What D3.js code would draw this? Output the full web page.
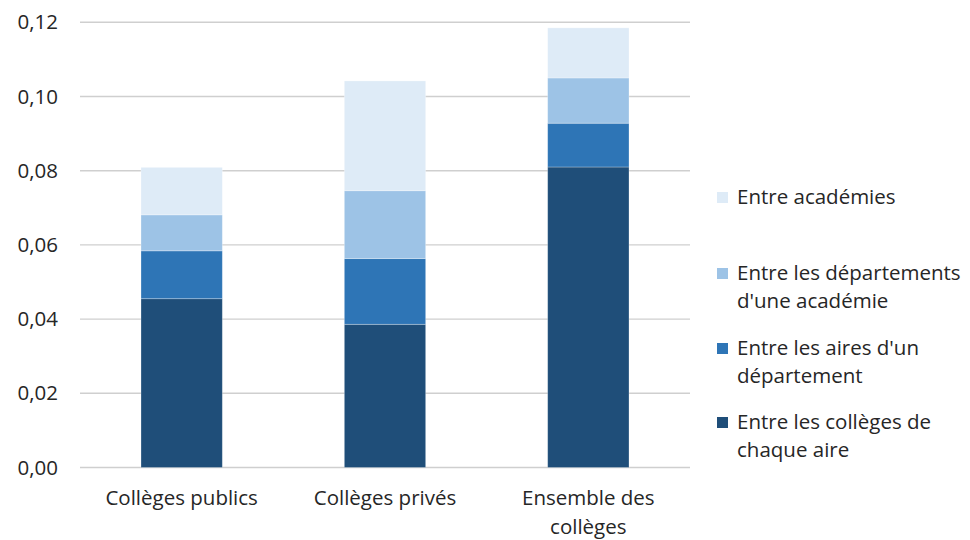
<!DOCTYPE html>
<html><head><meta charset="utf-8">
<script src="https://cdn.jsdelivr.net/npm/d3@7"></script>
<style>body{margin:0;background:#fff}text{font-family:"Open Sans",sans-serif;fill:#262626}</style>
</head><body><svg id="c" width="970" height="540"></svg>
<script>
const categories = [["Collèges publics"], ["Collèges privés"], ["Ensemble des", "collèges"]];
const seriesNames = [
  ["Entre les collèges de", "chaque aire"],
  ["Entre les aires d'un", "département"],
  ["Entre les départements", "d'une académie"],
  ["Entre académies"]
];
const seriesColleges = [0.0455, 0.0386, 0.0810];
const seriesAires = [0.0129, 0.0177, 0.0118];
const seriesDepartements = [0.0097, 0.0183, 0.0122];
const seriesAcademies = [0.0128, 0.0296, 0.0135];
const yTicks = [0, 0.02, 0.04, 0.06, 0.08, 0.10, 0.12];
const colors = ["#1F4E79", "#2E75B6", "#9DC3E6", "#DEEBF7"];

const svg = d3.select("#c");
const x0 = 80, x1 = 690, yTop = 22.3, yBot = 467.5;
const FS = 20.5;
const y = d3.scaleLinear().domain([0, 0.12]).range([yBot, yTop]);
const x = d3.scaleBand().domain(d3.range(3)).range([x0, x1]).paddingInner(0.6).paddingOuter(0.3);

// grid
svg.append("g").selectAll("line").data(yTicks).join("line")
  .attr("x1", x0).attr("x2", x1)
  .attr("y1", d => y(d)).attr("y2", d => y(d))
  .attr("stroke", "#cfcfcf").attr("stroke-width", 1.4);

const fmt = d => d3.format(".2f")(d).replace(".", ",");
svg.append("g").selectAll("text").data(yTicks).join("text")
  .attr("x", 58).attr("y", d => y(d)).attr("dy", "0.35em")
  .attr("text-anchor", "end").attr("font-size", FS).text(fmt);

const table = d3.range(3).map(i => ({i, s0: seriesColleges[i], s1: seriesAires[i], s2: seriesDepartements[i], s3: seriesAcademies[i]}));
const stack = d3.stack().keys(["s0", "s1", "s2", "s3"])(table);

svg.append("g").selectAll("g").data(stack).join("g")
  .attr("fill", (d, k) => colors[k])
  .selectAll("rect").data(d => d).join("rect")
  .attr("x", d => x(d.data.i)).attr("width", x.bandwidth())
  .attr("y", d => y(d[1])).attr("height", d => y(d[0]) - y(d[1]))
  .attr("stroke", "rgba(255,255,255,0.35)").attr("stroke-width", 0.8);

// x labels
const xl = svg.append("g").selectAll("text").data(categories).join("text")
  .attr("x", (d, i) => x(i) + x.bandwidth() / 2).attr("y", 505)
  .attr("text-anchor", "middle").attr("font-size", FS);
xl.selectAll("tspan").data(d => d).join("tspan")
  .attr("x", function() { return this.parentNode.getAttribute("x"); })
  .attr("dy", (d, j) => j === 0 ? 0 : 29).text(d => d);

// legend
const legendY = [197, 273, 348, 422];
const legOrder = [3, 2, 1, 0];
const lg = svg.append("g").selectAll("g").data(legOrder).join("g")
  .attr("transform", (k, j) => `translate(717,${legendY[j]})`);
lg.append("rect").attr("x", 0).attr("y", -5).attr("width", 11).attr("height", 11).attr("fill", k => colors[k]);
const lt = lg.append("text").attr("x", 20).attr("y", 0).attr("font-size", FS);
lt.selectAll("tspan").data(k => seriesNames[k]).join("tspan")
  .attr("x", 20).attr("dy", (d, j) => j === 0 ? "0.35em" : 28).text(d => d);
</script></body></html>
